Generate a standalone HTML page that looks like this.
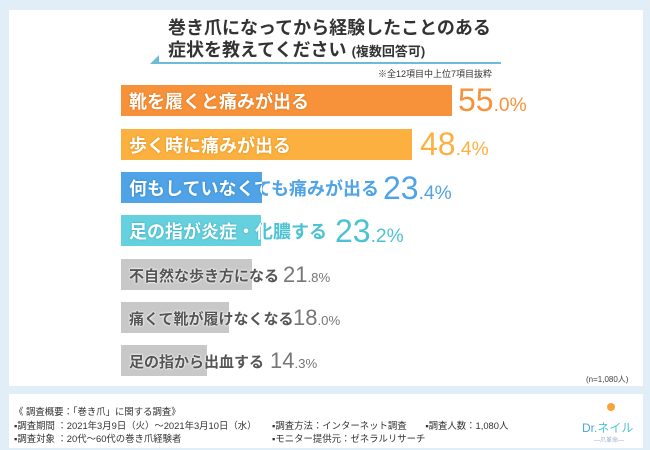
<!DOCTYPE html>
<html><head><meta charset="utf-8"><style>
*{margin:0;padding:0;box-sizing:border-box}
body{width:650px;height:450px;background:#e1eef7;position:relative;overflow:hidden;font-family:"Liberation Sans","Noto Sans CJK JP",sans-serif}
.panel{position:absolute;left:9px;top:10px;width:634px;height:376px;background:#fff}
.foot{position:absolute;left:9px;top:394px;width:634px;height:54px;background:#fff}
.a{position:absolute;white-space:nowrap}
.bar{position:absolute;left:121px;height:31px}
.lab{position:absolute;left:129px;font-weight:bold;white-space:nowrap}
.clip{position:absolute;left:121px;overflow:hidden;height:31px}
.clip span{position:absolute;left:8px;white-space:nowrap;font-weight:bold;color:#fff}
.v{position:absolute;white-space:nowrap;font-family:"Liberation Sans",sans-serif}
.v small{font-size:60%}
</style></head><body>
<div class="panel"></div>
<div class="foot"></div>
<div class="a" style="left:168px;top:17px;font-size:18px;font-weight:bold;color:#333;line-height:22px">巻き爪になってから経験したことのある<br>症状を教えてください <span style="font-size:13px">(複数回答可)</span></div>
<div class="a" style="left:157px;top:62px;width:344px;height:2px;background:#6bbbd9"></div>
<svg class="a" style="left:150px;top:55px" width="10" height="10"><polygon points="0,9 9,0 9,9" fill="#6bbbd9"/></svg>
<div class="a" style="left:378px;top:67px;font-size:9px;color:#333">※全12項目中上位7項目抜粋</div>

<div class="bar" style="top:85px;width:331px;background:#f7923a"></div>
<div class="clip" style="top:85px;width:331px"><span style="top:3px;font-size:18px;text-shadow:0 0 2px #d86a10">靴を履くと痛みが出る</span></div>
<div class="v" style="left:458px;top:82px;font-size:32px;color:#f7923a">55<small>.0%</small></div>

<div class="bar" style="top:129px;width:291px;background:#fbb040"></div>
<div class="clip" style="top:129px;width:291px"><span style="top:3px;font-size:18px;text-shadow:0 0 2px #e08a10">歩く時に痛みが出る</span></div>
<div class="v" style="left:420px;top:126px;font-size:32px;color:#fbb040">48<small>.4%</small></div>

<div class="bar" style="top:172px;width:141px;background:#4fa3e6"></div>
<div class="lab" style="top:175px;font-size:18px;color:#4fa3e6">何もしていなくても痛みが出る</div>
<div class="clip" style="top:172px;width:141px"><span style="top:3px;font-size:18px;text-shadow:0 0 2px #2a7fc8">何もしていなくても痛みが出る</span></div>
<div class="v" style="left:383px;top:170px;font-size:32px;color:#4fa3e6">23<small>.4%</small></div>

<div class="bar" style="top:215px;width:140px;background:#66d1de"></div>
<div class="lab" style="top:218px;font-size:18px;color:#4cc3d3">足の指が炎症・化膿する</div>
<div class="clip" style="top:215px;width:140px"><span style="top:3px;font-size:18px;text-shadow:0 0 2px #30a8b8">足の指が炎症・化膿する</span></div>
<div class="v" style="left:335px;top:213px;font-size:32px;color:#4cc3d3">23<small>.2%</small></div>

<div class="bar" style="top:259px;width:131px;background:#c8c8c8"></div>
<div class="lab" style="top:265px;font-size:15px;color:#555;text-shadow:0 0 2px #fff,0 0 2px #fff">不自然な歩き方になる</div>
<div class="v" style="left:283px;top:262px;font-size:22px;color:#777">21<small>.8%</small></div>

<div class="bar" style="top:302px;width:108px;background:#c8c8c8"></div>
<div class="lab" style="top:308px;font-size:15px;color:#555;text-shadow:0 0 2px #fff,0 0 2px #fff">痛くて靴が履けなくなる</div>
<div class="v" style="left:293px;top:305px;font-size:22px;color:#777">18<small>.0%</small></div>

<div class="bar" style="top:345px;width:86px;background:#c8c8c8"></div>
<div class="lab" style="top:351px;font-size:15px;color:#555;text-shadow:0 0 2px #fff,0 0 2px #fff">足の指から出血する</div>
<div class="v" style="left:270px;top:348px;font-size:22px;color:#777">14<small>.3%</small></div>

<div class="a" style="left:586px;top:374px;font-size:8px;color:#444">(n=1,080人)</div>

<div class="a" style="left:14px;top:405px;font-size:9.4px;color:#333;line-height:13.5px">《 調査概要：「巻き爪」に関する調査》<br>▪調査期間 ：2021年3月9日（火）～2021年3月10日（水）<br>▪調査対象 ：20代～60代の巻き爪経験者</div>
<div class="a" style="left:272px;top:418.5px;font-size:9.4px;color:#333;line-height:13.5px">▪調査方法：インターネット調査　　▪調査人数：1,080人<br>▪モニター提供元：ゼネラルリサーチ</div>
<div class="a" style="left:582px;top:419px;font-size:12px;color:#4fa3e6">Dr.<span style="color:#4cc3d3">ネイル</span></div>
<div class="a" style="left:607px;top:403px;width:8px;height:8px;border-radius:50%;background:#f7a33a"></div>
<div class="a" style="left:594px;top:435px;font-size:6px;color:#9ac">―爪革命―</div>
</body></html>
